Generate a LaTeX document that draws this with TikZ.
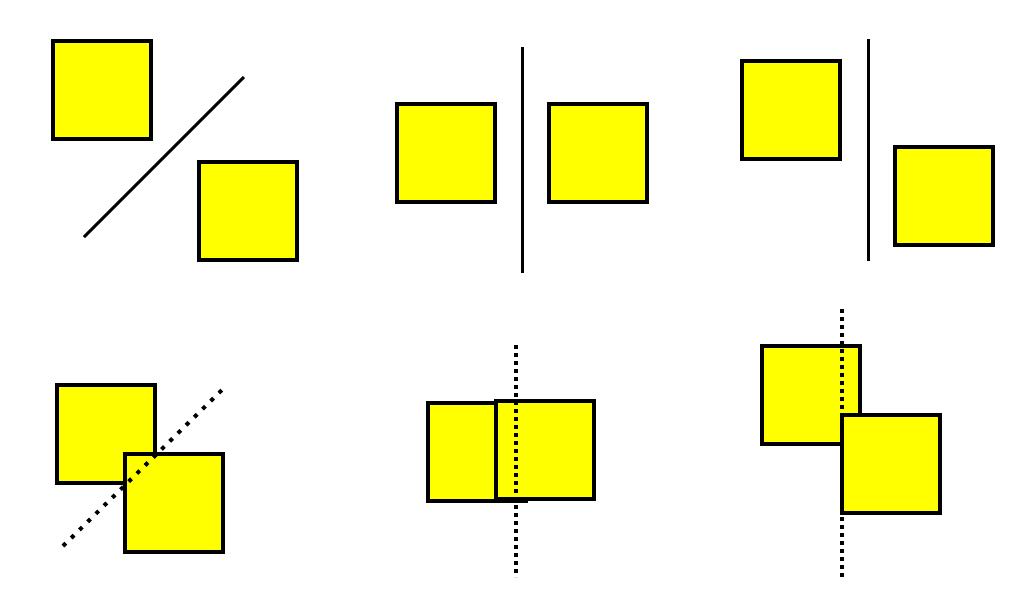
\documentclass[tikz,border=0pt]{standalone}
\definecolor{sqyellow}{RGB}{255,255,0}
\begin{document}
\begin{tikzpicture}[x=1pt,y=-1pt,
  sq/.style={draw=black,fill=sqyellow,line width=4pt,minimum width=98pt,minimum height=98pt,inner sep=0pt,outer sep=0pt,line join=miter},
  sline/.style={draw=black,line width=3pt},
  dline/.style={draw=black,line width=4pt,dash pattern=on 4pt off 4pt},
  ddline/.style={draw=black,line width=4pt,dash pattern=on 4pt off 7.5pt}]
\useasboundingbox (0,0) rectangle (1024,614);
\fill[white] (0,0) rectangle (1024,614);
% panel 1
\node[sq] (p1a) at (102,89.5) {};
\node[sq] (p1b) at (247.5,211) {};
\coordinate (l1s) at (84,237);
\coordinate (l1e) at (244,77);
\draw[sline] (l1s) -- (l1e);
% panel 2
\node[sq] (p2l) at (446,153) {};
\node[sq] (p2r) at (598,153) {};
\coordinate (l2s) at (522,47);
\coordinate (l2e) at (522,273);
\draw[sline] (l2s) -- (l2e);
% panel 3
\node[sq] (p3l) at (790.5,110) {};
\node[sq] (p3r) at (944,196) {};
\coordinate (l3s) at (868,39);
\coordinate (l3e) at (868,261);
\draw[sline] (l3s) -- (l3e);
% panel 4
\node[sq] (p4a) at (106,433.5) {};
\node[sq] (p4b) at (173.5,503) {};
\coordinate (d4s) at (63,546);
\coordinate (d4e) at (226,386);
\draw[ddline] (d4s) -- (d4e);
% panel 5
\node[sq] (p5l) at (477,452) {};
\node[sq] (p5r) at (544.5,449.5) {};
\coordinate (d5s) at (516,345);
\coordinate (d5e) at (516,577);
\draw[dline] (d5s) -- (d5e);
% panel 6
\node[sq] (p6l) at (811,394.5) {};
\node[sq] (p6r) at (891,464) {};
\coordinate (d6s) at (842,309);
\coordinate (d6e) at (842,577);
\draw[dline] (d6s) -- (d6e);
\end{tikzpicture}
\end{document}
